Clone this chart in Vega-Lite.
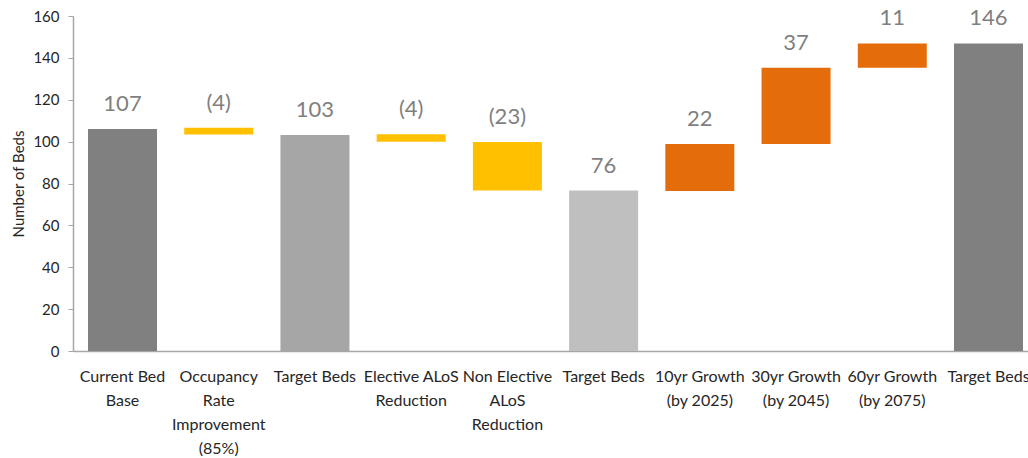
{
  "$schema": "https://vega.github.io/schema/vega-lite/v6.json",
  "width": 965,
  "height": 335,
  "autosize": {"type": "none"},
  "padding": {"left": 73, "top": 16, "right": 0, "bottom": 107},
  "background": "white",
  "config": {"view": {"stroke": null}, "font": "Lato"},
  "data": {
    "values": [
      {"cat": "Current Bed|Base", "start": 0, "end": 106, "label": "107", "kind": "dark"},
      {"cat": "Occupancy|Rate|Improvement|(85%)", "start": 106.6, "end": 103.4, "label": "(4)", "kind": "decrease"},
      {"cat": "Target Beds", "start": 0, "end": 103.2, "label": "103", "kind": "mid"},
      {"cat": "Elective ALoS|Reduction", "start": 103.5, "end": 100, "label": "(4)", "kind": "decrease"},
      {"cat": "Non Elective|ALoS|Reduction", "start": 99.8, "end": 76.6, "label": "(23)", "kind": "decrease"},
      {"cat": "Target Beds ", "start": 0, "end": 76.6, "label": "76", "kind": "light"},
      {"cat": "10yr Growth|(by 2025)", "start": 76.4, "end": 98.9, "label": "22", "kind": "increase"},
      {"cat": "30yr Growth|(by 2045)", "start": 98.9, "end": 135.3, "label": "37", "kind": "increase"},
      {"cat": "60yr Growth|(by 2075)", "start": 135.3, "end": 146.9, "label": "11", "kind": "increase"},
      {"cat": "Target Beds  ", "start": 0, "end": 146.9, "label": "146", "kind": "dark"}
    ]
  },
  "transform": [{"calculate": "max(datum.start, datum.end)", "as": "top"}],
  "encoding": {
    "x": {
      "field": "cat",
      "type": "nominal",
      "sort": null,
      "scale": {"paddingInner": 0.283, "paddingOuter": 0.156},
      "axis": {
        "title": null,
        "labelAngle": 0,
        "labelExpr": "split(trim(datum.label), '|')",
        "labelFontSize": 16,
        "labelLineHeight": 24,
        "labelColor": "#262626",
        "labelPadding": 17,
        "labelLimit": 0,
        "ticks": false,
        "domainColor": "#a6a6a6",
        "domainWidth": 1.5
      }
    }
  },
  "layer": [
    {
      "mark": {"type": "bar"},
      "encoding": {
        "y": {
          "field": "start",
          "type": "quantitative",
          "scale": {"domain": [0, 160]},
          "axis": {
            "title": "Number of Beds",
            "titleFontSize": 15,
            "titleFontWeight": "normal",
            "titleColor": "#262626",
            "titlePadding": 6,
            "values": [0, 20, 40, 60, 80, 100, 120, 140, 160],
            "grid": false,
            "labelFontSize": 15,
            "labelColor": "#262626",
            "labelPadding": 9,
            "tickSize": 5,
            "tickColor": "#a6a6a6",
            "domainColor": "#a6a6a6",
            "domainWidth": 1.5
          }
        },
        "y2": {"field": "end"},
        "color": {
          "field": "kind",
          "type": "nominal",
          "legend": null,
          "scale": {
            "domain": ["dark", "mid", "light", "decrease", "increase"],
            "range": ["#808080", "#a6a6a6", "#bfbfbf", "#ffc000", "#e46c0a"]
          }
        }
      }
    },
    {
      "mark": {"type": "text", "dy": -18, "baseline": "alphabetic", "fontSize": 22, "color": "#7f7f7f"},
      "encoding": {
        "y": {"field": "top", "type": "quantitative"},
        "text": {"field": "label"}
      }
    }
  ]
}
